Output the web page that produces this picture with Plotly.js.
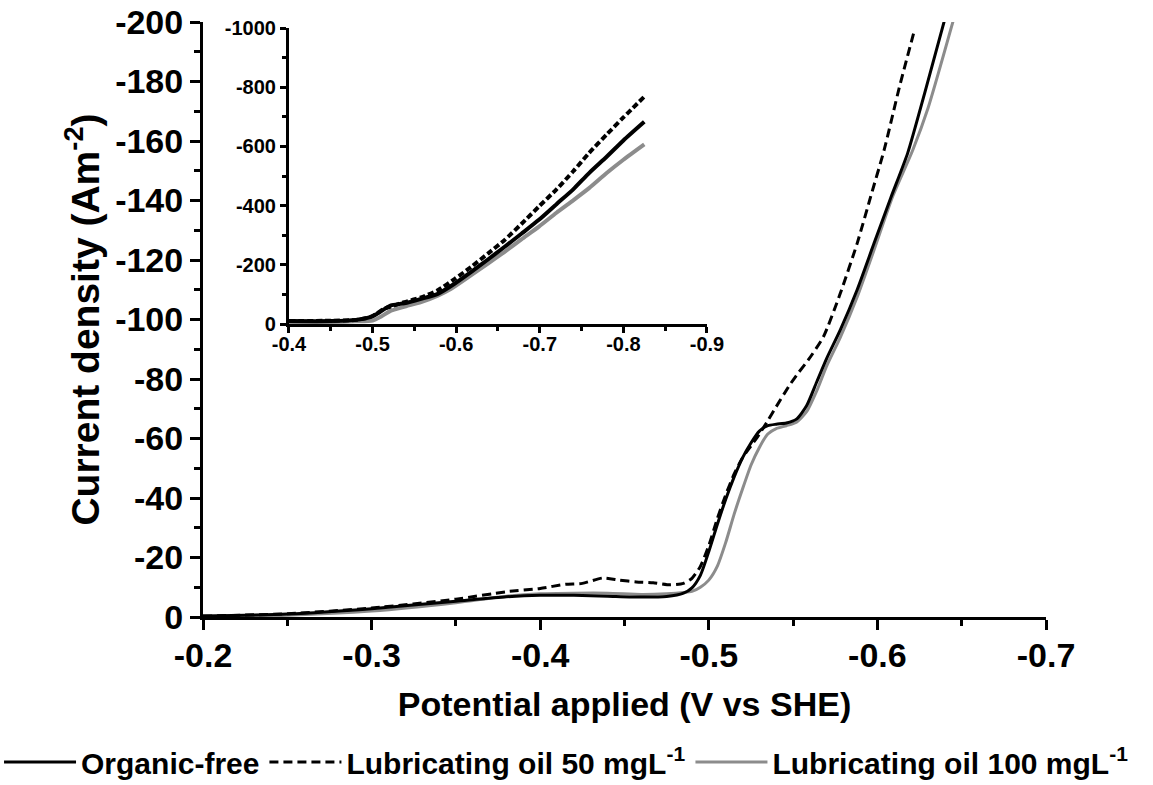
<!DOCTYPE html>
<html>
<head>
<meta charset="utf-8">
<script src="https://cdn.plot.ly/plotly-3.0.1.min.js"></script>
<style>html,body{margin:0;padding:0;background:#fff;}#chart{width:1153px;height:785px;}</style>
</head>
<body>
<div id="chart"></div>
<script>
// ---- Main panel data (potential in V vs SHE, current density in A m^-2)
var organicV = [-0.20,-0.25,-0.30,-0.35,-0.38,-0.40,-0.42,-0.44,-0.46,-0.475,-0.485,-0.49,-0.495,-0.50,-0.505,-0.51,-0.515,-0.52,-0.525,-0.53,-0.535,-0.54,-0.546,-0.552,-0.558,-0.564,-0.57,-0.578,-0.588,-0.598,-0.608,-0.618,-0.628,-0.64];
var organicJ = [-0.3,-1.0,-2.8,-5.3,-6.8,-7.3,-7.3,-7.0,-6.7,-6.9,-8.0,-9.8,-14,-22,-31,-39.5,-47,-53.5,-58.5,-62.5,-64.3,-64.8,-65.2,-66.5,-71,-79,-87,-96.5,-110,-125.6,-141,-156,-176,-201];

var oil50V = [-0.20,-0.25,-0.30,-0.35,-0.38,-0.40,-0.415,-0.425,-0.437,-0.447,-0.457,-0.467,-0.477,-0.485,-0.49,-0.495,-0.50,-0.505,-0.51,-0.515,-0.52,-0.525,-0.53,-0.535,-0.54,-0.548,-0.553,-0.559,-0.568,-0.578,-0.588,-0.596,-0.604,-0.613,-0.622];
var oil50J = [-0.3,-1.1,-3.0,-6.0,-8.5,-9.6,-11.0,-11.3,-13.1,-12.4,-11.8,-11.5,-10.8,-11.3,-13,-17,-24,-33,-41,-48,-53.5,-57.5,-61.5,-66,-70.7,-78,-82,-86.4,-94.2,-108.8,-125.6,-141.3,-157,-178,-197.3];

var oil100V = [-0.20,-0.25,-0.30,-0.35,-0.38,-0.40,-0.42,-0.44,-0.46,-0.475,-0.485,-0.49,-0.495,-0.50,-0.505,-0.51,-0.515,-0.52,-0.525,-0.53,-0.535,-0.54,-0.546,-0.552,-0.558,-0.564,-0.57,-0.578,-0.588,-0.598,-0.609,-0.621,-0.63,-0.645];
var oil100J = [-0.2,-0.6,-2.0,-4.8,-7.0,-7.8,-8.0,-8.0,-7.6,-7.8,-8.2,-8.6,-10,-12.4,-17,-25,-34.5,-43,-51,-57,-61.5,-63.3,-64.3,-65.5,-69,-76,-84.5,-94,-107.6,-123.4,-141.3,-157,-171,-200.5];

// ---- Inset data
var insetOrgV = [-0.40,-0.45,-0.48,-0.497,-0.505,-0.515,-0.522,-0.538,-0.558,-0.578,-0.598,-0.618,-0.638,-0.658,-0.678,-0.699,-0.72,-0.74,-0.759,-0.78,-0.80,-0.825];
var insetOrgJ = [-10,-10,-14,-23,-34,-52,-63,-70,-85,-102,-136,-176,-218,-261,-305,-352,-405,-455,-510,-565,-620,-683];
var insetOil50V = [-0.40,-0.45,-0.48,-0.497,-0.505,-0.513,-0.525,-0.538,-0.558,-0.578,-0.598,-0.618,-0.638,-0.658,-0.678,-0.699,-0.72,-0.74,-0.759,-0.78,-0.80,-0.825];
var insetOil50J = [-10,-11,-14,-23,-35,-51,-62,-74,-90,-114,-152,-193,-238,-284,-338,-397,-455,-516,-578,-640,-698,-768];
var insetOil100V = [-0.40,-0.45,-0.48,-0.50,-0.51,-0.522,-0.54,-0.558,-0.578,-0.594,-0.618,-0.638,-0.658,-0.678,-0.699,-0.72,-0.74,-0.759,-0.78,-0.80,-0.825];
var insetOil100J = [-7,-7,-9,-12,-25,-45,-60,-74,-96,-119,-165,-204,-244,-286,-329,-376,-418,-459,-510,-555,-607];

// ---- Tick labels
var mainXTicks = [-0.2,-0.3,-0.4,-0.5,-0.6,-0.7];
var mainXLabels = ['-0.2','-0.3','-0.4','-0.5','-0.6','-0.7'];
var mainYTicks = [0,-20,-40,-60,-80,-100,-120,-140,-160,-180,-200];
var mainYLabels = ['0','-20','-40','-60','-80','-100','-120','-140','-160','-180','-200'];
var insetXTicks = [-0.4,-0.5,-0.6,-0.7,-0.8,-0.9];
var insetXLabels = ['-0.4','-0.5','-0.6','-0.7','-0.8','-0.9'];
var insetYTicks = [0,-200,-400,-600,-800,-1000];
var insetYLabels = ['0','-200','-400','-600','-800','-1000'];

var seriesNames = ['Organic-free','Lubricating oil 50 mgL<sup>-1</sup>','Lubricating oil 100 mgL<sup>-1</sup>'];

var FONT = 'Liberation Sans, Arial, sans-serif';
var GRAY = 'rgb(140,140,140)';

var traces = [
  {x: oil100V, y: oil100J, name: seriesNames[2], legendrank: 3, mode: 'lines', line: {color: GRAY, width: 3, shape: 'spline', smoothing: 0.6}},
  {x: organicV, y: organicJ, name: seriesNames[0], legendrank: 1, mode: 'lines', line: {color: '#000', width: 3, shape: 'spline', smoothing: 0.6}},
  {x: oil50V, y: oil50J, name: seriesNames[1], legendrank: 2, mode: 'lines', line: {color: '#000', width: 3, dash: '9px,5px', shape: 'spline', smoothing: 0.6}},
  {x: insetOil100V, y: insetOil100J, xaxis: 'x2', yaxis: 'y2', showlegend: false, mode: 'lines', line: {color: GRAY, width: 4, shape: 'spline', smoothing: 0.6}},
  {x: insetOrgV, y: insetOrgJ, xaxis: 'x2', yaxis: 'y2', showlegend: false, mode: 'lines', line: {color: '#000', width: 4, shape: 'spline', smoothing: 0.6}},
  {x: insetOil50V, y: insetOil50J, xaxis: 'x2', yaxis: 'y2', showlegend: false, mode: 'lines', line: {color: '#000', width: 4, dash: '6px,3px', shape: 'spline', smoothing: 0.6}}
];

var axisCommon = {showline: true, linecolor: '#000', linewidth: 3, ticks: 'outside', tickcolor: '#000', tickwidth: 3, showgrid: false, zeroline: false, tickmode: 'array', automargin: false};

// plot-area frame: left 203px, width 950px (main axes occupy the first 843px)
var layout = {
  width: 1153, height: 785,
  margin: {l: 203, r: 0, t: 22, b: 168, autoexpand: false},
  paper_bgcolor: '#fff', plot_bgcolor: 'rgba(0,0,0,0)',
  font: {family: FONT, color: '#000', weight: 'bold'},
  showlegend: true,
  legend: {orientation: 'h', x: -0.2147, xanchor: 'left', y: -0.2437, yanchor: 'middle', font: {size: 30, family: FONT, weight: 'bold'}, itemwidth: 72, tracegroupgap: 0, bgcolor: 'rgba(0,0,0,0)'},
  xaxis: Object.assign({}, axisCommon, {
    domain: [0, 0.88737], range: [-0.2, -0.7], ticklen: 10, ticklabelstandoff: -4,
    tickvals: mainXTicks, ticktext: mainXLabels,
    minor: {tickvals: [-0.25,-0.35,-0.45,-0.55,-0.65], ticks: 'outside', ticklen: 6, tickwidth: 3, tickcolor: '#000'},
    tickfont: {size: 34, family: FONT, weight: 'bold'},
    title: {text: 'Potential applied (V vs SHE)', font: {size: 34, family: FONT, weight: 'bold'}, standoff: 20},
    anchor: 'y'
  }),
  yaxis: Object.assign({}, axisCommon, {
    domain: [0, 1], range: [0, -200], ticklen: 10,
    tickvals: mainYTicks, ticktext: mainYLabels,
    minor: {tickvals: [-10,-30,-50,-70,-90,-110,-130,-150,-170,-190], ticks: 'outside', ticklen: 6, tickwidth: 3, tickcolor: '#000'},
    tickfont: {size: 34, family: FONT, weight: 'bold'},
    title: {text: 'Current density (Am<sup>-2</sup>)', font: {size: 39, family: FONT, weight: 'bold'}, standoff: 4},
    anchor: 'x'
  }),
  xaxis2: Object.assign({}, axisCommon, {
    domain: [0.0905, 0.5305], range: [-0.4, -0.9], ticklen: 6, ticklabelstandoff: -6,
    tickvals: insetXTicks, ticktext: insetXLabels,
    minor: {tickvals: [-0.45,-0.55,-0.65,-0.75,-0.85], ticks: 'outside', ticklen: 4, tickwidth: 3, tickcolor: '#000'},
    tickfont: {size: 20, family: FONT, weight: 'bold'},
    anchor: 'y2'
  }),
  yaxis2: Object.assign({}, axisCommon, {
    domain: [0.4924, 0.9899], range: [0, -1000], ticklen: 6,
    tickvals: insetYTicks, ticktext: insetYLabels,
    minor: {tickvals: [-100,-300,-500,-700,-900], ticks: 'outside', ticklen: 4, tickwidth: 3, tickcolor: '#000'},
    tickfont: {size: 20, family: FONT, weight: 'bold'},
    anchor: 'x2'
  })
};

Plotly.newPlot('chart', traces, layout, {displayModeBar: false, staticPlot: true});
</script>
</body>
</html>
